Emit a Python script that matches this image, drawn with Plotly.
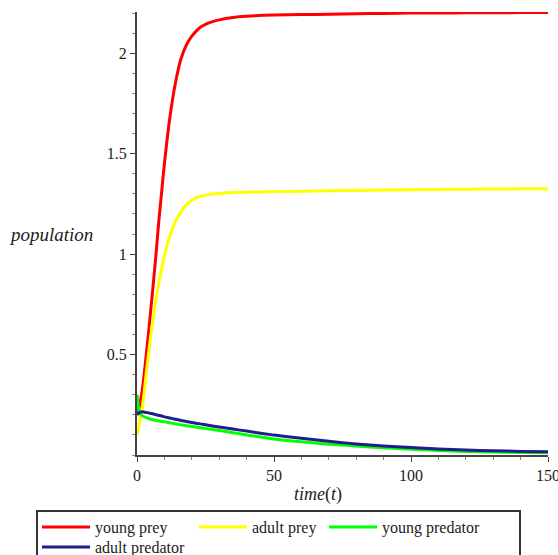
import plotly.graph_objects as go

t = [0, 0.5, 1, 2, 3, 4, 5, 6, 7, 8, 9, 10, 12, 14, 16, 18, 20, 23, 26, 30, 35, 40,
     50, 60, 70, 80, 90, 100, 110, 120, 130, 140, 150]
young_prey = [0.2, 0.22, 0.25, 0.33, 0.45, 0.58, 0.72, 0.86, 1.01, 1.17, 1.31, 1.45,
              1.68, 1.85, 1.97, 2.04, 2.085, 2.128, 2.15, 2.166, 2.178, 2.184,
              2.19, 2.192, 2.194, 2.196, 2.198, 2.2, 2.2, 2.201, 2.201, 2.202, 2.202]
adult_prey = [0.1, 0.13, 0.17, 0.24, 0.36, 0.48, 0.59, 0.69, 0.78, 0.86, 0.93, 0.99,
              1.09, 1.16, 1.21, 1.245, 1.268, 1.287, 1.296, 1.302, 1.306, 1.308,
              1.311, 1.313, 1.315, 1.317, 1.319, 1.32, 1.322, 1.323, 1.324, 1.325, 1.325]
young_predator = [0.3, 0.24, 0.21, 0.195, 0.188, 0.183, 0.178, 0.175, 0.172, 0.169, 0.167, 0.165,
                  0.16, 0.155, 0.15, 0.146, 0.142, 0.136, 0.13, 0.122, 0.111, 0.1,
                  0.08, 0.066, 0.054, 0.045, 0.036, 0.029, 0.023, 0.018, 0.015, 0.012, 0.011]
adult_predator = [0.2, 0.207, 0.212, 0.215, 0.213, 0.21, 0.207, 0.204, 0.2, 0.197, 0.194, 0.19,
                  0.184, 0.178, 0.172, 0.167, 0.162, 0.155, 0.148, 0.139, 0.129, 0.119,
                  0.099, 0.083, 0.068, 0.055, 0.045, 0.037, 0.03, 0.025, 0.021, 0.018, 0.016]

series = [
    ("young prey", young_prey, "#ff0000"),
    ("adult prey", adult_prey, "#ffff00"),
    ("young predator", young_predator, "#00ff00"),
    ("adult predator", adult_predator, "#1e1e8c"),
]

x_ticks = [0, 50, 100, 150]
y_ticks = [0.5, 1, 1.5, 2]

FONT = "Liberation Serif, Times New Roman, serif"
W, H = 558, 555

# legend entry placement (container pixels): one legend per entry, laid out like the original
legend_pos = [(37, 510), (194, 510), (324, 510), (37, 530)]
legend_ids = ["legend", "legend2", "legend3", "legend4"]

fig = go.Figure()
for (name, vals, col), lid in zip(series, legend_ids):
    fig.add_trace(go.Scatter(x=t, y=vals, mode="lines", name=name, legend=lid,
                             line=dict(color=col, width=3, shape="spline", smoothing=0.6)))

legend_layout = {}
for lid, (px, py) in zip(legend_ids, legend_pos):
    legend_layout[lid] = dict(orientation="h", xref="container", yref="container",
                              x=px / W, xanchor="left", y=1 - py / H, yanchor="top",
                              borderwidth=0, bgcolor="rgba(0,0,0,0)", itemwidth=48,
                              font=dict(family=FONT, size=16, color="#222"))

fig.update_layout(
    width=W, height=H,
    margin=dict(l=137, r=10, t=12, b=100),
    paper_bgcolor="white", plot_bgcolor="white",
    font=dict(family=FONT, size=16, color="#222"),
    showlegend=True,
    xaxis=dict(range=[0, 150], tickvals=x_ticks, ticks="outside", ticklen=5,
               tickcolor="#444", showline=True, linecolor="#444", linewidth=2,
               showgrid=False, zeroline=False, ticklabeloverflow="allow", automargin=False,
               minor=dict(dtick=10, ticks="outside", ticklen=3, tickcolor="#888")),
    yaxis=dict(range=[0, 2.205], tickvals=y_ticks, ticks="outside", ticklen=5,
               tickcolor="#444", showline=True, linecolor="#444", linewidth=2,
               showgrid=False, zeroline=False, automargin=False,
               minor=dict(dtick=0.1, ticks="outside", ticklen=3, tickcolor="#888")),
    annotations=[
        dict(text="<i>population</i>", xref="paper", yref="paper",
             x=-0.316, y=0.497, xanchor="left", yanchor="middle",
             showarrow=False, font=dict(family=FONT, size=19, color="#222")),
        dict(text="<i>time</i>(<i>t</i>)", xref="paper", yref="paper",
             x=0.44, y=-0.09, xanchor="center", yanchor="middle",
             showarrow=False, font=dict(family=FONT, size=18, color="#222")),
    ],
    shapes=[dict(type="rect", xref="paper", yref="paper",
                 x0=-0.2433, x1=0.9319, y0=-0.1264, y1=-0.27,
                 line=dict(color="#333", width=2), fillcolor="rgba(0,0,0,0)")],
    **legend_layout,
)

fig.write_html("out.html")
